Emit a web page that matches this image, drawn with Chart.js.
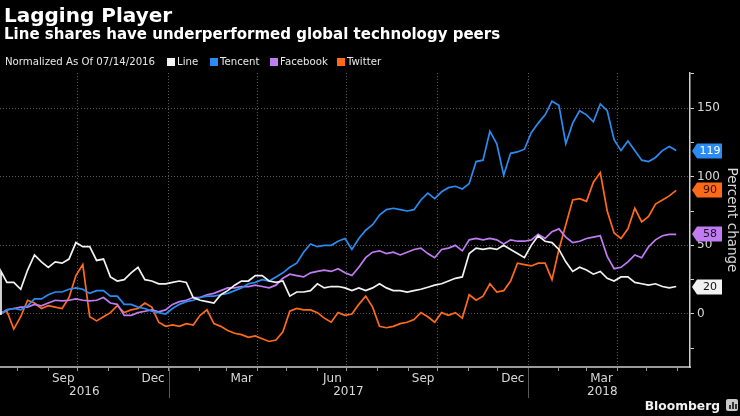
<!DOCTYPE html>
<html>
<head>
<meta charset="utf-8">
<script src="https://cdn.jsdelivr.net/npm/chart.js@4.4.1/dist/chart.umd.min.js"></script>
<style>
html,body{margin:0;padding:0;background:#000;}
#wrap{position:relative;width:740px;height:416px;background:#000;overflow:hidden;font-family:"DejaVu Sans",sans-serif;color:#fff;}
#c{position:absolute;left:0;top:0;z-index:0;}
.t{position:absolute;white-space:nowrap;line-height:normal;z-index:1;}
#title{left:4px;top:3px;font-size:20px;font-weight:bold;}
#sub{left:4px;top:25px;font-size:15px;font-weight:bold;}
#norm{left:5px;top:56px;font-size:10.2px;color:#e8e8e8;}
.sq{position:absolute;width:8px;height:8px;top:58px;z-index:1;}
.lg{position:absolute;top:56px;font-size:10.2px;color:#e8e8e8;white-space:nowrap;line-height:normal;z-index:1;}
#brand{right:20px;top:399px;font-size:12.3px;font-weight:bold;color:#f0f0f0;}
#logo{position:absolute;left:726px;top:399px;width:12px;height:12px;border-radius:2px;background:#c8c8c8;z-index:1;}
#logo i{position:absolute;bottom:2px;width:2px;background:#333;}
</style>
</head>
<body>
<div id="wrap">
  <canvas id="c" width="740" height="416"></canvas>
  <div class="t" id="title">Lagging Player</div>
  <div class="t" id="sub">Line shares have underperformed global technology peers</div>
  <div class="t" id="norm">Normalized As Of 07/14/2016</div>
  <div class="t" id="brand">Bloomberg</div>
  <div id="logo"><i style="left:3px;height:4px"></i><i style="left:6px;height:7px"></i><i style="left:9px;height:5px"></i></div>
</div>
<script>
// ---------- data ----------
const startDate = '2016-07-14';
const axisEndDate = '2018-06-14';

const dates = [
  '2016-07-14','2016-07-15',
  '2016-07-21','2016-07-28','2016-08-04','2016-08-11','2016-08-18','2016-08-25','2016-09-01','2016-09-08','2016-09-15','2016-09-22',
  '2016-09-29','2016-10-06','2016-10-13','2016-10-20','2016-10-27','2016-11-03','2016-11-10','2016-11-17','2016-11-24','2016-12-01',
  '2016-12-08','2016-12-15','2016-12-22','2016-12-29','2017-01-05','2017-01-12','2017-01-19','2017-01-26','2017-02-02','2017-02-09',
  '2017-02-16','2017-02-23','2017-03-02','2017-03-09','2017-03-16','2017-03-23','2017-03-30','2017-04-06','2017-04-13','2017-04-20',
  '2017-04-27','2017-05-04','2017-05-11','2017-05-18','2017-05-25','2017-06-01','2017-06-08','2017-06-15','2017-06-22','2017-06-29',
  '2017-07-06','2017-07-13','2017-07-20','2017-07-27','2017-08-03','2017-08-10','2017-08-17','2017-08-24','2017-08-31','2017-09-07',
  '2017-09-14','2017-09-21','2017-09-28','2017-10-05','2017-10-12','2017-10-19','2017-10-26','2017-11-02','2017-11-09','2017-11-16',
  '2017-11-23','2017-11-30','2017-12-07','2017-12-14','2017-12-21','2017-12-28','2018-01-04','2018-01-11','2018-01-18','2018-01-25',
  '2018-02-01','2018-02-08','2018-02-15','2018-02-22','2018-03-01','2018-03-08','2018-03-15','2018-03-22','2018-03-29','2018-04-05',
  '2018-04-12','2018-04-19','2018-04-26','2018-05-03','2018-05-10','2018-05-17','2018-05-24','2018-05-31'
];

const lineValues = [
  0, 31,
  23, 23, 18, 32, 43, 38, 34, 38, 37, 40,
  52, 49, 49, 39, 40, 27, 24, 25, 30, 34,
  25, 24, 22, 22, 23, 24, 23, 12, 10, 9,
  8, 14, 17, 21, 24, 24, 28, 28, 24, 23,
  24, 13, 16, 16, 17, 22, 19, 20, 20, 19,
  17, 19, 17, 19, 22, 19, 17, 17, 16, 17,
  18, 19.5, 21, 22, 24, 26, 27, 44, 48, 47,
  48, 47, 50, 47, 44, 41, 50, 57, 53, 52,
  47, 38, 31, 34, 32, 29, 31, 26, 24, 27,
  27, 23, 22, 21, 22, 20, 19, 20
];

const tencentValues = [
  0, 0,
  3, 4, 3, 6, 11, 11, 14, 16, 16, 18,
  19, 18, 15, 17, 17, 13, 13, 7, 7, 5,
  4, 2, 1, 0, 4, 7, 9, 10, 12, 13,
  13, 14, 15, 17, 19, 22, 23, 25, 24, 27,
  30, 34, 37, 45, 51, 49, 50, 50, 53, 55,
  47, 55, 61, 65, 72, 76, 77, 76, 75, 76,
  83, 88, 84, 89, 92, 93, 91, 95, 111, 112,
  133, 124, 101, 117, 118, 120, 132, 139, 145, 155,
  152, 124, 139, 148, 145, 140, 153, 148, 127, 119,
  126, 119, 112, 111, 114, 119, 122, 119
];

const facebookValues = [
  0, 0,
  3, 4, 5, 5, 7, 6, 8, 10, 9.5, 10,
  11, 10, 9.5, 10, 12, 8, 7, -1, -1, 1,
  2, 3, 1.5, 3, 7, 9, 10, 12, 12, 14,
  15, 17, 19, 19, 20, 20, 21, 20, 19, 21,
  26, 29, 28, 27, 30, 31, 32, 31, 33, 30,
  28, 34, 41, 45, 46, 44, 45, 43, 45, 47,
  48, 44, 41, 47, 48, 50, 46, 54, 55, 54,
  55, 54, 51, 54, 53, 53, 54, 58, 55, 60,
  62, 56, 52, 53, 55, 56, 57, 42, 33, 34,
  38, 43, 41, 49, 54, 57, 58, 58
];

const twitterValues = [
  0, 1,
  2, -11, -2, 10, 8, 4, 6, 5, 4, 12,
  28, 36, -2, -5, -2, 1, 6, 1, 3, 4,
  8, 5, -6, -9, -8, -9, -7, -8, -1, 3,
  -7, -9, -12, -14, -15, -17, -16, -18, -20, -19,
  -13, 2, 4, 3, 3, 1, -3, -6, 1, -1,
  0, 7, 13, 5, -9, -10, -9, -7, -6, -4,
  1, -2, -6, 1, -1, 1, -3, 14, 10, 13,
  22, 16, 17, 24, 37, 36, 35, 37, 37, 25,
  47, 65, 83, 84, 82, 96, 103, 75, 59, 55,
  62, 77, 67, 71, 80, 83, 86, 90
];

const seriesNames  = ['Line', 'Tencent', 'Facebook', 'Twitter'];
const seriesColors = ['#f2f2f2', '#2a8cf2', '#c17cf2', '#ff6a1a'];
const seriesText   = ['#111111', '#ffffff', '#1c1022', '#2a1200'];
const seriesValues = [lineValues, tencentValues, facebookValues, twitterValues];

const monthTicks = [
  '2016-08-01','2016-09-01','2016-10-01','2016-11-01','2016-12-01','2017-01-01','2017-02-01','2017-03-01',
  '2017-04-01','2017-05-01','2017-06-01','2017-07-01','2017-08-01','2017-09-01','2017-10-01','2017-11-01',
  '2017-12-01','2018-01-01','2018-02-01','2018-03-01','2018-04-01','2018-05-01','2018-06-01'
];
const monthLabels = ['', 'Sep', '', '', 'Dec', '', '', 'Mar', '', '', 'Jun', '', '', 'Sep', '', '', 'Dec', '', '', 'Mar', '', '', ''];
const yearLabels = ['2016', '2017', '2018'];
const yearStarts = ['2017-01-01', '2018-01-01'];
const yTicks = [-25, 0, 25, 50, 75, 100, 125, 150, 175];
const yLabelStep = 50;
const yMin = -38.6, yMax = 175.5;

// ---------- helpers ----------
const dayOf = s => (Date.UTC(+s.slice(0,4), +s.slice(5,7) - 1, +s.slice(8,10)) - Date.UTC(+startDate.slice(0,4), +startDate.slice(5,7) - 1, +startDate.slice(8,10))) / 86400000;
const isQuarterStart = s => ['01','04','07','10'].includes(s.slice(5,7));
const FONT = 'DejaVu Sans';

// legend
const legendPos = [167, 210, 270, 337];
const wrap = document.getElementById('wrap');
seriesNames.forEach((n, i) => {
  const sq = document.createElement('div');
  sq.className = 'sq'; sq.style.left = legendPos[i] + 'px'; sq.style.background = seriesColors[i];
  wrap.appendChild(sq);
  const tx = document.createElement('div');
  tx.className = 'lg'; tx.style.left = (legendPos[i] + 10) + 'px'; tx.textContent = n;
  wrap.appendChild(tx);
});

// ---------- plugins ----------
const endLabels = {
  id: 'endLabels',
  afterDraw(chart) {
    const {ctx, scales: {y}} = chart;
    const x0 = y.left + 2;
    ctx.save();
    ctx.font = '11px "' + FONT + '"';
    ctx.textAlign = 'center';
    ctx.textBaseline = 'middle';
    seriesValues.forEach((vals, i) => {
      const v = vals[vals.length - 1];
      const py = Math.round(y.getPixelForValue(v));
      const h = 7.5;
      ctx.fillStyle = seriesColors[i];
      ctx.beginPath();
      ctx.moveTo(x0, py);
      ctx.lineTo(x0 + 5, py - h);
      ctx.lineTo(x0 + 30, py - h);
      ctx.lineTo(x0 + 30, py + h);
      ctx.lineTo(x0 + 5, py + h);
      ctx.closePath();
      ctx.fill();
      ctx.fillStyle = seriesText[i];
      ctx.fillText(String(Math.round(v)), x0 + 18, py + 0.5);
    });
    ctx.restore();
  }
};

const yearRow = {
  id: 'yearRow',
  afterDraw(chart) {
    const {ctx, chartArea, scales: {x}} = chart;
    const b = chartArea.bottom;
    const bounds = [x.getPixelForValue(0)]
      .concat(yearStarts.map(d => x.getPixelForValue(dayOf(d))))
      .concat([x.getPixelForValue(dayOf(dates[dates.length - 1]))]);
    ctx.save();
    ctx.strokeStyle = '#5a5a5a';
    ctx.lineWidth = 1;
    yearStarts.forEach(d => {
      const px = Math.round(x.getPixelForValue(dayOf(d))) + 0.5;
      ctx.beginPath(); ctx.moveTo(px, b + 1); ctx.lineTo(px, b + 31); ctx.stroke();
    });
    ctx.fillStyle = '#d8d8d8';
    ctx.font = '12px "' + FONT + '"';
    ctx.textAlign = 'center';
    ctx.textBaseline = 'middle';
    yearLabels.forEach((lab, i) => {
      ctx.fillText(lab, (bounds[i] + bounds[i + 1]) / 2, b + 25);
    });
    ctx.restore();
  }
};

// ---------- chart ----------
const datasets = seriesNames.map((n, i) => ({
  label: n,
  data: dates.map((d, k) => ({x: dayOf(d), y: seriesValues[i][k]})),
  borderColor: seriesColors[i],
  backgroundColor: seriesColors[i],
  borderWidth: 1.7,
  pointRadius: 0,
  tension: 0,
  fill: false
}));

new Chart(document.getElementById('c'), {
  type: 'line',
  data: {datasets},
  options: {
    responsive: false,
    animation: false,
    devicePixelRatio: 1,
    layout: {padding: {top: 73, left: 0, right: 0, bottom: 0}},
    plugins: {legend: {display: false}, tooltip: {enabled: false}, title: {display: false}},
    scales: {
      x: {
        type: 'linear',
        position: 'bottom',
        min: 0,
        max: dayOf(axisEndDate),
        afterBuildTicks: s => { s.ticks = monthTicks.map(d => ({value: dayOf(d)})); },
        afterFit: s => { s.height = 49; },
        ticks: {
          autoSkip: false, maxRotation: 0, minRotation: 0,
          color: '#d8d8d8', font: {family: FONT, size: 12}, padding: 1, labelOffset: 15,
          callback: (v, i) => monthLabels[i]
        },
        grid: {
          drawOnChartArea: true,
          color: c => (c.index !== undefined && monthTicks[c.index] && isQuarterStart(monthTicks[c.index])) ? '#585858' : 'rgba(0,0,0,0)',
          tickColor: '#9a9a9a', tickLength: 4, lineWidth: 1
        },
        border: {color: '#9a9a9a', width: 2, dash: [1, 2]}
      },
      y: {
        position: 'right',
        min: yMin,
        max: yMax,
        afterBuildTicks: s => { s.ticks = yTicks.map(v => ({value: v})); },
        afterFit: s => { s.width = 50; },
        ticks: {
          color: '#d8d8d8', font: {family: FONT, size: 12}, padding: 3,
          callback: v => (v % yLabelStep === 0 ? String(v) : '')
        },
        grid: {
          color: c => (c.tick && c.tick.value % yLabelStep === 0 && c.tick.value < yMax - 10) ? '#585858' : 'rgba(0,0,0,0)',
          tickColor: '#cfcfcf', tickLength: 4, lineWidth: 1
        },
        border: {color: '#cfcfcf', width: 1.5, dash: [1, 2]},
        title: {display: true, text: 'Percent change', color: '#d8d8d8', font: {family: FONT, size: 13.5}, padding: 0}
      }
    }
  },
  plugins: [endLabels, yearRow]
});
</script>
</body>
</html>
